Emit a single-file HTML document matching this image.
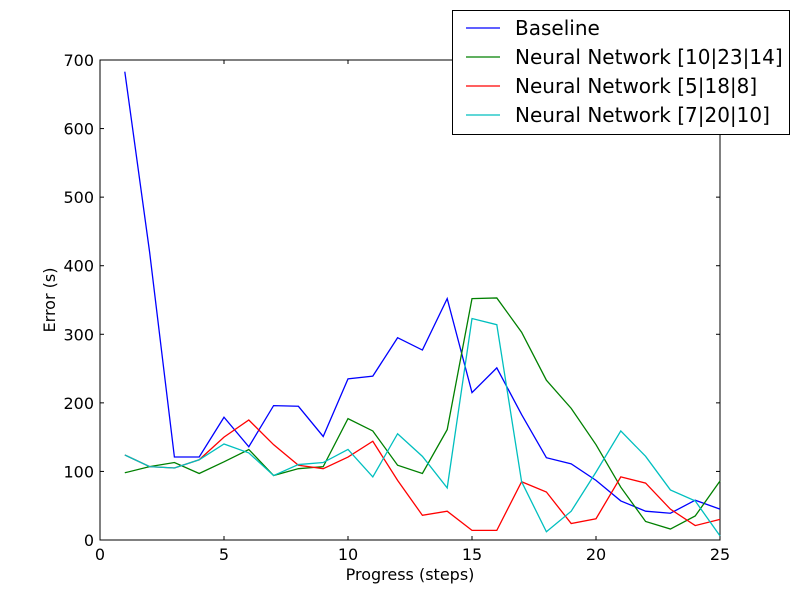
<!DOCTYPE html>
<html><head><meta charset="utf-8"><style>body{margin:0;background:#fff}svg{display:block;font-family:"DejaVu Sans","Liberation Sans",sans-serif}</style></head>
<body>
<svg id="chart" width="800" height="600"></svg>
<script>
const xValues=[1,2,3,4,5,6,7,8,9,10,11,12,13,14,15,16,17,18,19,20,21,22,23,24,25];
const baseline=[683,420,121,121,179,136,196,195,151,235,239,295,277,352,215,251,183,120,111,87,57,42,39,58,45];
const nn10=[98,107,113,97,114,132,94,104,107,177,159,109,97,161,352,353,303,233,192,139,77,27,16,35,86];
const nn5=[124,107,105,117,150,175,139,109,104,121,144,87,36,42,14,14,85,70,24,31,92,83,45,21,30];
const nn7=[124,107,105,117,140,127,94,110,113,132,92,155,122,76,323,314,85,12,42,99,159,122,73,57,6];
const xTicks=[0,5,10,15,20,25];
const yTicks=[0,100,200,300,400,500,600,700];
const seriesNames=["Baseline","Neural Network [10|23|14]","Neural Network [5|18|8]","Neural Network [7|20|10]"];
const seriesColors=["#0000ff","#008000","#ff0000","#00bfbf"];
const seriesData=[baseline,nn10,nn5,nn7];
const L=100,R=720,T=60,B=540;
const sx=v=>L+(v-0)/25*(R-L);
const sy=v=>B-(v-0)/700*(B-T);
const svg=document.getElementById('chart');
const NS='http://www.w3.org/2000/svg';
function mk(t,a){const e=document.createElementNS(NS,t);for(const k in a)e.setAttribute(k,a[k]);svg.appendChild(e);return e;}
const frame=mk('rect',{x:L,y:T,width:R-L,height:B-T,fill:'#fff',stroke:'#000','stroke-width':1});


xTicks.forEach(t=>{const x=sx(t);
 mk('line',{x1:x,y1:B,x2:x,y2:B-4,stroke:'#000'});mk('line',{x1:x,y1:T,x2:x,y2:T+4,stroke:'#000'});
 const tx=mk('text',{x:x,y:B+20,'text-anchor':'middle','font-size':16});tx.textContent=t;
 
 });
yTicks.forEach(t=>{const y=sy(t);
 mk('line',{x1:L,y1:y,x2:L+4,y2:y,stroke:'#000'});mk('line',{x1:R,y1:y,x2:R-4,y2:y,stroke:'#000'});
 const tx=mk('text',{x:L-6,y:y+6,'text-anchor':'end','font-size':16});tx.textContent=t;
 
 });
const xt=mk('text',{x:(L+R)/2,y:580,'text-anchor':'middle','font-size':16});xt.textContent='Progress (steps)';


const yt=mk('text',{x:55,y:300,'text-anchor':'middle','font-size':16,transform:'rotate(-90 55 300)'});yt.textContent='Error (s)';


seriesData.forEach((d,i)=>{const p=mk('polyline',{points:d.map((v,j)=>sx(xValues[j])+','+sy(v)).join(' '),fill:'none',stroke:seriesColors[i],'stroke-width':1.3});
 
 });
const lg=mk('rect',{x:452.5,y:10.5,width:337,height:124,fill:'#fff',stroke:'#000'});


seriesNames.forEach((n,i)=>{const y=28+i*29;
 mk('line',{x1:466,y1:y,x2:500,y2:y,stroke:seriesColors[i],'stroke-width':1.3});
 const tx=mk('text',{x:515,y:y+7,'font-size':20});tx.textContent=n;
 
 });
</script>
</body></html>
